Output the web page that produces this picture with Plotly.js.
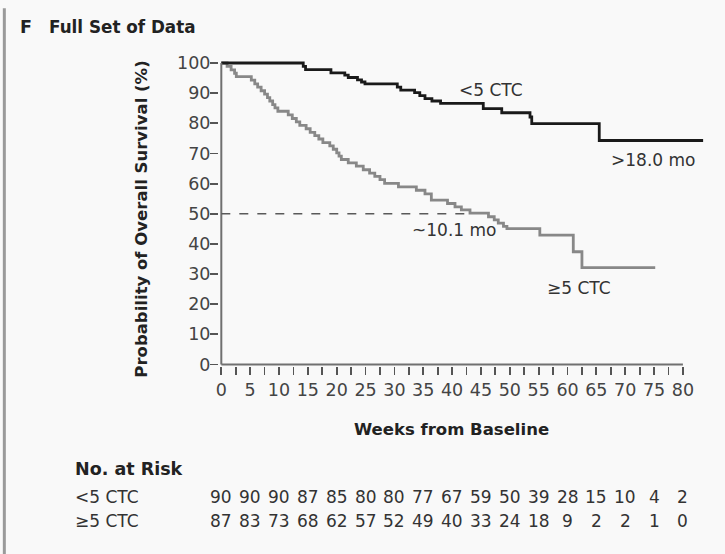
<!DOCTYPE html>
<html>
<head>
<meta charset="utf-8">
<script src="https://cdn.plot.ly/plotly-3.0.1.min.js"></script>
<style>
html,body{margin:0;padding:0;background:#f9f9f9;}
#chart{width:725px;height:554px;}
</style>
</head>
<body>
<div id="chart"></div>
<script>
// ---- Data ----
var lowWeeks = [0, 14.2, 14.6, 19.0, 21.4, 22.0, 23.6, 24.3, 24.9, 30.5, 31.1, 33.5, 34.4, 35.3, 36.5, 38.0, 45.4, 48.6, 53.5, 53.8, 65.5, 83.5];
var lowSurv  = [100, 98.9, 97.8, 96.7, 96.0, 95.2, 94.4, 93.7, 93.1, 92.0, 91.0, 90.2, 89.2, 88.2, 87.4, 86.6, 84.9, 83.5, 82.1, 79.9, 74.3, 74.3];

var highWeeks = [0, 1.0, 1.7, 2.3, 2.6, 5.2, 5.8, 6.3, 6.9, 7.5, 8.0, 8.4, 8.9, 9.3, 9.8, 11.6, 12.3, 13.0, 13.6, 14.7, 15.4, 16.2, 16.9, 17.6, 18.8, 19.4, 20.0, 20.4, 20.8, 22.0, 23.4, 24.6, 25.7, 26.6, 27.5, 28.3, 30.7, 33.8, 35.3, 36.4, 39.2, 40.5, 41.6, 43.1, 46.3, 47.3, 48.0, 48.9, 49.5, 55.2, 61.0, 62.5, 75.2];
var highSurv  = [100, 98.9, 97.7, 96.6, 95.5, 94.3, 93.1, 92.0, 90.8, 89.7, 88.5, 87.4, 86.2, 85.1, 84.0, 82.8, 81.6, 80.5, 79.3, 78.2, 77.0, 75.9, 74.8, 73.6, 72.5, 71.4, 70.2, 69.1, 68.0, 66.9, 65.8, 64.6, 63.5, 62.4, 61.3, 60.1, 58.9, 57.8, 56.6, 54.5, 53.4, 52.3, 51.3, 50.2, 49.0, 48.0, 46.9, 45.8, 45.1, 42.9, 37.4, 32.1, 32.1];

var medianWeek = 43;
var medianSurv = 50;

var riskWeeks = [0, 5, 10, 15, 20, 25, 30, 35, 40, 45, 50, 55, 60, 65, 70, 75, 80];
var riskLow  = [90, 90, 90, 87, 85, 80, 80, 77, 67, 59, 50, 39, 28, 15, 10, 4, 2];
var riskHigh = [87, 83, 73, 68, 62, 57, 52, 49, 40, 33, 24, 18, 9, 2, 2, 1, 0];

var yTicks = [0, 10, 20, 30, 40, 50, 60, 70, 80, 90, 100];
var xMinorStep = 2.5;

// ---- Layout geometry (pixels) ----
var FONT = '"DejaVu Sans", sans-serif';
var L = 219.4, R = 19.2, T = 59.7, Bm = 188;
var W = 725 - L - R, H = 554 - T - Bm;
function px(x){ return (x - L) / W; }
function py(y){ return (554 - Bm - y) / H; }

var xTickVals = [], xTickText = [];
for (var v = 0; v <= 80 + 1e-9; v += xMinorStep) {
  xTickVals.push(v);
  xTickText.push(riskWeeks.indexOf(v) >= 0 ? String(v) : '');
}

var traces = [
  {x: highWeeks, y: highSurv, type: 'scatter', mode: 'lines', line: {shape: 'hv', color: '#888888', width: 2.8}, hoverinfo: 'skip'},
  {x: lowWeeks, y: lowSurv, type: 'scatter', mode: 'lines', line: {shape: 'hv', color: '#1a1a1a', width: 2.8}, hoverinfo: 'skip'}
];

var ann = [];
function addText(text, x, y, opts) {
  var a = Object.assign({text: text, x: x, y: y, showarrow: false, xanchor: 'center', yanchor: 'middle',
    font: {family: FONT, size: 17, color: '#333'}}, opts || {});
  ann.push(a);
}
var boldFont = function(s){ return {family: FONT, size: s, color: '#222', weight: 'bold'}; };
// curve labels (data coords)
addText('&lt;5 CTC', 46.7, 91.1, {xref: 'x', yref: 'y'});
addText('&gt;18.0 mo', 74.8, 67.8, {xref: 'x', yref: 'y'});
addText('~10.1 mo', 40.3, 44.6, {xref: 'x', yref: 'y'});
addText('≥5 CTC', 62.0, 25.3, {xref: 'x', yref: 'y'});
// titles
addText('<b>F</b>', px(19), py(27), {xref: 'paper', yref: 'paper', xanchor: 'left', font: boldFont(17.5)});
addText('<b>Full Set of Data</b>', px(48), py(27), {xref: 'paper', yref: 'paper', xanchor: 'left', font: boldFont(16.8)});
addText('<b>Probability of Overall Survival (%)</b>', px(142), py(219), {xref: 'paper', yref: 'paper', textangle: -90, font: boldFont(16.5)});
addText('<b>Weeks from Baseline</b>', px(452), py(430), {xref: 'paper', yref: 'paper', font: boldFont(16.5)});
addText('<b>No. at Risk</b>', px(74), py(469), {xref: 'paper', yref: 'paper', xanchor: 'left', font: boldFont(17.5)});
addText('&lt;5 CTC', px(74), py(497), {xref: 'paper', yref: 'paper', xanchor: 'left'});
addText('≥5 CTC', px(74), py(521), {xref: 'paper', yref: 'paper', xanchor: 'left'});
for (var i = 0; i < riskWeeks.length; i++) {
  addText(String(riskLow[i]), riskWeeks[i], py(497), {xref: 'x', yref: 'paper'});
  addText(String(riskHigh[i]), riskWeeks[i], py(521), {xref: 'x', yref: 'paper'});
}

var shapes = [
  {type: 'line', xref: 'x', yref: 'y', x0: 0, x1: 80, y0: 0, y1: 0, line: {color: '#707070', width: 2}},
  {type: 'line', xref: 'x', yref: 'y', x0: 0, x1: 0, y0: 0, y1: 100, line: {color: '#707070', width: 2}},
  {type: 'line', xref: 'x', yref: 'y', x0: 0, x1: medianWeek, y0: medianSurv, y1: medianSurv, line: {color: '#5a5a5a', width: 1.6, dash: 'dash'}},
  {type: 'line', xref: 'paper', yref: 'paper', x0: px(5), x1: px(5), y0: py(8), y1: py(560), line: {color: '#9a9a9a', width: 3}}
];

var layout = {
  width: 725, height: 554,
  margin: {l: L, r: R, t: T, b: Bm, pad: 0},
  paper_bgcolor: '#f9f9f9', plot_bgcolor: 'rgba(0,0,0,0)',
  showlegend: false,
  xaxis: {
    range: [-0.4, 84], showgrid: false, zeroline: false, showline: false,
    tickmode: 'array', tickvals: xTickVals, ticktext: xTickText,
    ticks: 'outside', ticklen: 8, tickwidth: 1.8, tickcolor: '#555',
    tickfont: {family: FONT, size: 17.5, color: '#444'}, fixedrange: true
  },
  yaxis: {
    range: [-0.5, 101], showgrid: false, zeroline: false, showline: false,
    tickmode: 'array', tickvals: yTicks,
    ticks: 'outside', ticklen: 8, tickwidth: 1.8, tickcolor: '#555',
    ticklabelstandoff: -4,
    tickfont: {family: FONT, size: 17.5, color: '#444'}, fixedrange: true
  },
  annotations: ann,
  shapes: shapes
};

Plotly.newPlot('chart', traces, layout, {displayModeBar: false, staticPlot: true});
</script>
</body>
</html>
